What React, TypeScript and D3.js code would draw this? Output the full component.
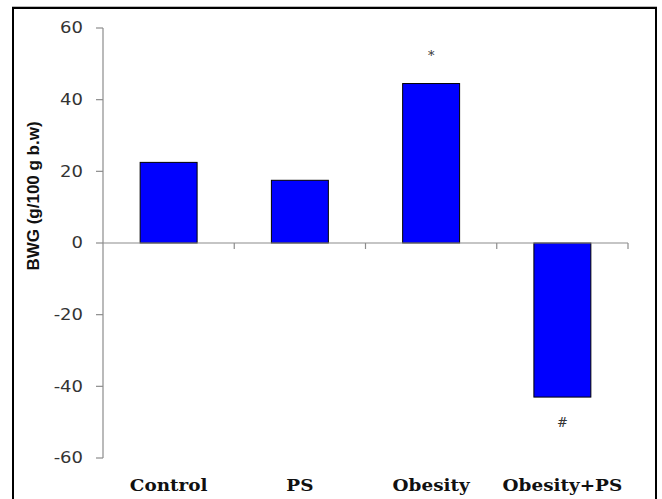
import React from "react";
import * as d3 from "d3";

const categories = ["Control", "PS", "Obesity", "Obesity+PS"];
const values = [22.5, 17.5, 44.5, -43];
const marks = ["", "", "*", "#"];
const yTicks = [-60, -40, -20, 0, 20, 40, 60];

export default function App() {
  const W = 662, H = 499;
  const x = d3.scaleBand<string>().domain(categories).range([103, 628]).paddingInner(0.566).paddingOuter(0.283);
  const y = d3.scaleLinear().domain([-60, 60]).range([458, 28]);
  const axisColor = "#8c8c8c";
  const step = x.step();
  const boundaries = d3.range(categories.length + 1).map((i) => 103 + i * step);
  const sx = 1.2;
  return (
    <svg width={W} height={H} style={{ position: "absolute", left: 0, top: 0, background: "#fff" }}>
      <rect x={0} y={0} width={W} height={H} fill="#fff" />
      <line x1={12} x2={657} y1={6.5} y2={6.5} stroke="#bbb" strokeWidth={1} />
      <rect x={13} y={8} width={643} height={H + 10} fill="none" stroke="#000" strokeWidth={2} />
      {/* y axis */}
      <line x1={103} x2={103} y1={y(60)} y2={y(-60)} stroke={axisColor} strokeWidth={1.2} />
      {yTicks.map((t) => (
        <g key={t}>
          <line x1={96} x2={103} y1={y(t)} y2={y(t)} stroke={axisColor} strokeWidth={1.2} />
          <g transform={`translate(83,${y(t)}) scale(${sx},1)`}>
            <text x={0} y={0} dy="0.36em" textAnchor="end" fontFamily="DejaVu Sans" fontSize={15} fill="#333">
              {t}
            </text>
          </g>
        </g>
      ))}
      {/* bars */}
      {categories.map((c, i) => {
        const v = values[i];
        const top = y(Math.max(0, v));
        const bot = y(Math.min(0, v));
        return (
          <rect key={c} x={x(c)} y={top} width={x.bandwidth()} height={bot - top} fill="#0000ff" stroke="#000" strokeWidth={1} />
        );
      })}
      {/* x axis */}
      <line x1={103} x2={628} y1={y(0)} y2={y(0)} stroke={axisColor} strokeWidth={1.2} />
      {boundaries.slice(1).map((b, i) => (
        <line key={i} x1={b} x2={b} y1={y(0)} y2={y(0) + 6} stroke={axisColor} strokeWidth={1.2} />
      ))}
      {/* significance marks */}
      {categories.map((c, i) =>
        marks[i] ? (
          <text
            key={"m" + c}
            x={(x(c) as number) + x.bandwidth() / 2}
            y={values[i] > 0 ? y(values[i]) - 24 : y(values[i]) + 30}
            textAnchor="middle"
            fontFamily="DejaVu Serif"
            fontSize={13}
            fill="#333"
          >
            {marks[i]}
          </text>
        ) : null
      )}
      {/* category labels */}
      {categories.map((c) => (
        <g key={"l" + c} transform={`translate(${(x(c) as number) + x.bandwidth() / 2},491) scale(1.15,1)`}>
          <text x={0} y={0} textAnchor="middle" fontFamily="DejaVu Serif" fontWeight="bold" fontSize={16} fill="#111">
            {c}
          </text>
        </g>
      ))}
      {/* y title */}
      <text
        transform="translate(39,196) rotate(-90)"
        textAnchor="middle"
        fontFamily="Liberation Sans"
        fontWeight="bold"
        fontSize={17}
        fill="#111"
      >
        BWG (g/100 g b.w)
      </text>
    </svg>
  );
}
